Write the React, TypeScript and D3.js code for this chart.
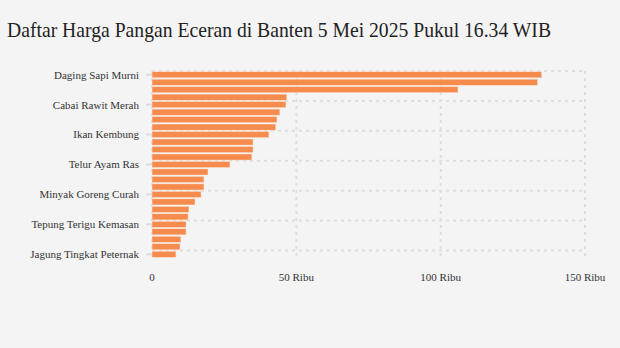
import React from "react";
import * as d3 from "d3";

const categories = [
  "Daging Sapi Murni",
  "Daging Kerbau Lokal",
  "Daging Kerbau Beku",
  "Bawang Merah",
  "Cabai Rawit Merah",
  "Cabai Merah Keriting",
  "Cabai Merah Besar",
  "Bawang Putih Bonggol",
  "Ikan Kembung",
  "Ikan Tongkol",
  "Daging Ayam Ras",
  "Ikan Bandeng",
  "Telur Ayam Ras",
  "Gula Konsumsi",
  "Minyak Goreng Kemasan",
  "Minyakita",
  "Minyak Goreng Curah",
  "Beras Premium",
  "Beras Medium",
  "Beras SPHP",
  "Tepung Terigu Kemasan",
  "Kedelai Biji Kering (Impor)",
  "Garam Konsumsi",
  "Tepung Terigu Curah",
  "Jagung Tingkat Peternak",
];

const values = [
  135000, 133600, 106000, 46700, 46400, 44300, 43300, 42900, 40500, 35000,
  35000, 34600, 27000, 19400, 18000, 18000, 17000, 14900, 12800, 12500,
  11800, 11800, 10000, 9700, 8300,
];

const xTicks = [0, 50000, 100000, 150000];
const xTickLabels = ["0", "50 Ribu", "100 Ribu", "150 Ribu"];
const title = "Daftar Harga Pangan Eceran di Banten 5 Mei 2025 Pukul 16.34 WIB";

const W = 620;
const H = 348;
const margin = { left: 152, right: 35, top: 71, bottom: 90 };

export default function App() {
  const x = d3.scaleLinear().domain([0, 150000]).range([margin.left, W - margin.right]);
  const y = d3
    .scaleBand<string>()
    .domain(categories)
    .range([margin.top, H - margin.bottom])
    .paddingInner(0.18)
    .paddingOuter(0.09);
  const step = y.step();
  const labelIdx = categories.map((_, i) => i).filter((i) => i % 4 === 0);
  const yTop = margin.top;
  const yBot = H - margin.bottom;
  const font = "'Liberation Serif', 'Times New Roman', serif";
  return (
    <svg
      width={W}
      height={H}
      style={{ position: "absolute", left: 0, top: 0, background: "#f4f4f4" }}
    >
      <rect x={0} y={0} width={W} height={H} fill="#f4f4f4" />
      <text
        x={7}
        y={37}
        fontFamily={font}
        fontSize={21}
        fill="#222"
        textLength={544}
        lengthAdjust="spacingAndGlyphs"
      >
        {title}
      </text>
      {/* horizontal grid at band boundaries */}
      {labelIdx.map((i) => {
        const yy = y(categories[i])! - (step - y.bandwidth()) / 2;
        return (
          <line
            key={"h" + i}
            x1={margin.left}
            x2={W - margin.right}
            y1={yy}
            y2={yy}
            stroke="#dedede"
            strokeWidth={2}
            strokeDasharray="3,4"
          />
        );
      })}
      {/* vertical grid */}
      {xTicks.map((t) => (
        <line
          key={"v" + t}
          x1={x(t)}
          x2={x(t)}
          y1={yTop}
          y2={yBot}
          stroke="#dedede"
          strokeWidth={2}
          strokeDasharray="3,4"
        />
      ))}
      {/* bars */}
      {categories.map((c, i) => (
        <rect
          key={c}
          x={x(0)}
          y={y(c)!}
          width={x(values[i]) - x(0)}
          height={y.bandwidth()}
          fill="#f58c4e"
          stroke="#f9e6da"
          strokeWidth={0.5}
        />
      ))}
      {/* y ticks and labels */}
      {labelIdx.map((i) => {
        const cy = y(categories[i])! + y.bandwidth() / 2;
        return (
          <g key={"l" + i}>
            <line x1={146} x2={152} y1={cy} y2={cy} stroke="#dcdcdc" strokeWidth={2} />
            <text
              x={139}
              y={cy}
              dy="0.35em"
              textAnchor="end"
              fontFamily={font}
              fontSize={11}
              fill="#333"
            >
              {categories[i]}
            </text>
          </g>
        );
      })}
      {/* x labels */}
      {xTicks.map((t, i) => (
        <text
          key={"xt" + t}
          x={x(t)}
          y={281}
          textAnchor="middle"
          fontFamily={font}
          fontSize={11}
          fill="#333"
        >
          {xTickLabels[i]}
        </text>
      ))}
    </svg>
  );
}
